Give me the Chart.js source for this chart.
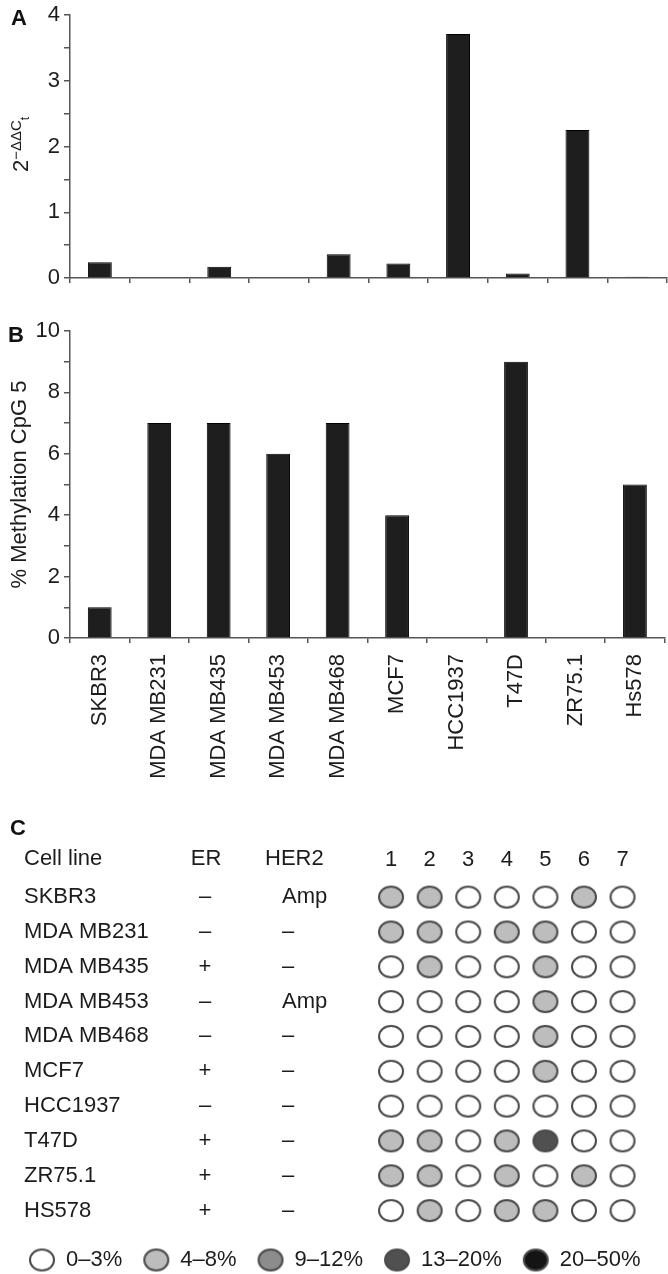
<!DOCTYPE html>
<html>
<head>
<meta charset="utf-8">
<script src="https://cdn.jsdelivr.net/npm/chart.js@4/dist/chart.umd.min.js"></script>
<style>
html,body{margin:0;padding:0;background:#fff;overflow:hidden;width:668px;height:1274px;}
canvas{position:absolute;left:0;}
</style>
</head>
<body>
<canvas id="cA" width="668" height="300" style="top:0px"></canvas>
<canvas id="cB" width="668" height="500" style="top:300px"></canvas>
<canvas id="cC" width="668" height="481" style="top:800px"></canvas>
<script>
// ---------- DATA ----------
const barCellLines = ['SKBR3','MDA MB231','MDA MB435','MDA MB453','MDA MB468','MCF7','HCC1937','T47D','ZR75.1','Hs578'];
const expressionA  = [0.24, 0.01, 0.17, 0, 0.36, 0.22, 3.71, 0.07, 2.25, 0.02];
const methylationB = [1, 7, 7, 6, 7, 4, 0, 9, 0, 5];
const yLabelsA = [0, 1, 2, 3, 4];
const yLabelsB = [0, 2, 4, 6, 8, 10];

const tableCellLines = ['SKBR3','MDA MB231','MDA MB435','MDA MB453','MDA MB468','MCF7','HCC1937','T47D','ZR75.1','HS578'];
const erStatus   = ['–','–','+','–','–','+','–','+','+','+'];
const her2Status = ['Amp','–','–','Amp','–','–','–','–','–','–'];
const cpgSites   = ['1','2','3','4','5','6','7'];
// methylation class per cell line (rows) and CpG site (columns)
const classSKBR3    = [1,1,0,0,0,1,0];
const classMB231    = [1,1,0,1,1,0,0];
const classMB435    = [0,1,0,0,1,0,0];
const classMB453    = [0,0,0,0,1,0,0];
const classMB468    = [0,0,0,0,1,0,0];
const classMCF7     = [0,0,0,0,1,0,0];
const classHCC1937  = [0,0,0,0,0,0,0];
const classT47D     = [1,1,0,1,3,0,0];
const classZR751    = [1,1,0,1,0,1,0];
const classHS578    = [0,1,0,1,1,0,0];
const classMatrix = [classSKBR3,classMB231,classMB435,classMB453,classMB468,classMCF7,classHCC1937,classT47D,classZR751,classHS578];
const classLabels = ['0–3%','4–8%','9–12%','13–20%','20–50%'];

// ---------- STYLE ----------
const FONT = '"Liberation Sans", Arial, Helvetica, sans-serif';
const TEXT = '#1c1c1c';
const AXIS = '#555555';
const BAR_FILL = '#1e1e1e';
const classColors = ['#ffffff','#bdbdbd','#8c8c8c','#505050','#141414'];
const CIRCLE_EDGE = '#4a4a4a';

Chart.defaults.font.family = FONT;
Chart.defaults.color = TEXT;

// elliptical marker sprite used as the library's pointStyle
function ellipseSprite(fill) {
  const c = document.createElement('canvas');
  c.width = 28; c.height = 25;
  const g = c.getContext('2d');
  g.beginPath();
  g.ellipse(14, 12.5, 12, 10.5, 0, 0, Math.PI * 2);
  g.fillStyle = fill;
  g.fill();
  g.lineWidth = 2;
  g.strokeStyle = CIRCLE_EDGE;
  g.stroke();
  return c;
}

const panelLetter = {
  id: 'panelLetter',
  afterDraw(chart, args, opts) {
    if (!opts || !opts.text) return;
    const ctx = chart.ctx;
    ctx.save();
    ctx.font = 'bold 22px ' + FONT;
    ctx.fillStyle = '#111';
    ctx.textAlign = 'left';
    ctx.textBaseline = 'alphabetic';
    ctx.fillText(opts.text, opts.x, opts.y);
    ctx.restore();
  }
};
Chart.register(panelLetter);

const axisTitleA = {
  id: 'axisTitleA',
  afterDraw(chart) {
    const {ctx, chartArea} = chart;
    const cy = (chartArea.top + chartArea.bottom) / 2 - 2;
    const parts = [
      {t: '2', f: '22px ' + FONT, dy: 8},
      {t: '−ΔΔC', f: '15px ' + FONT, dy: 1},
      {t: 't', f: '12px ' + FONT, dy: 9}
    ];
    ctx.save();
    ctx.fillStyle = TEXT;
    let total = 0;
    parts.forEach(p => { ctx.font = p.f; p.w = ctx.measureText(p.t).width; total += p.w; });
    ctx.translate(20, cy);
    ctx.rotate(-Math.PI / 2);
    ctx.textAlign = 'left';
    ctx.textBaseline = 'alphabetic';
    let x = -total / 2;
    parts.forEach(p => { ctx.font = p.f; ctx.fillText(p.t, x, p.dy); x += p.w; });
    ctx.restore();
  }
};

function barOptions(cfg) {
  return {
    responsive: false,
    animation: false,
    events: [],
    layout: {padding: {top: cfg.top, right: 1, left: 0, bottom: cfg.bottom}},
    plugins: {
      legend: {display: false},
      tooltip: {enabled: false},
      panelLetter: cfg.letter
    },
    scales: {
      x: {
        type: 'category',
        offset: true,
        grid: {offset: true, drawOnChartArea: false, drawTicks: true, tickLength: 5, color: AXIS, lineWidth: 1.5},
        border: {color: AXIS, width: 1.5},
        ticks: {display: cfg.showLabels, autoSkip: false, minRotation: 90, maxRotation: 90, padding: 11,
                color: TEXT, font: {size: 22, lineHeight: 1}},
        afterFit: s => { s.height = cfg.xHeight; }
      },
      y: {
        min: 0, max: cfg.max,
        ticks: {stepSize: cfg.step, autoSkip: false, padding: 4, color: TEXT, font: {size: 22, lineHeight: 1},
                callback: v => cfg.labelTicks.includes(v) ? String(v) : ''},
        grid: {drawOnChartArea: false, drawTicks: true, tickLength: 6, color: AXIS, lineWidth: 1.5},
        border: {color: AXIS, width: 1.5},
        title: cfg.title,
        afterFit: s => { s.width = 70; }
      }
    }
  };
}

function barDataset(values) {
  return {
    data: values,
    backgroundColor: BAR_FILL,
    borderColor: '#000',
    borderWidth: 1,
    barPercentage: 0.4,
    categoryPercentage: 1.0
  };
}

// ---------- PANEL A ----------
new Chart(document.getElementById('cA'), {
  type: 'bar',
  data: {labels: barCellLines, datasets: [barDataset(expressionA)]},
  options: barOptions({
    top: 12, bottom: 0, xHeight: 22, showLabels: false, max: 4, step: 0.5, labelTicks: yLabelsA,
    title: {display: false},
    letter: {text: 'A', x: 11, y: 25}
  }),
  plugins: [axisTitleA]
});

// ---------- PANEL B ----------
new Chart(document.getElementById('cB'), {
  type: 'bar',
  data: {labels: barCellLines, datasets: [barDataset(methylationB)]},
  options: barOptions({
    top: 31, bottom: 12, xHeight: 150, showLabels: true, max: 10, step: 1, labelTicks: yLabelsB,
    title: {display: true, text: '% Methylation CpG 5', color: TEXT, font: {size: 22, lineHeight: 1.2}, padding: {top: 7, bottom: 0}},
    letter: {text: 'B', x: 8, y: 42}
  })
});

// ---------- PANEL C ----------
const tableText = {
  id: 'tableText',
  afterDraw(chart) {
    const {ctx, chartArea} = chart;
    const yScale = chart.scales.y;
    ctx.save();
    ctx.font = '22px ' + FONT;
    ctx.fillStyle = TEXT;
    ctx.textBaseline = 'middle';
    const headY = chartArea.top - 21;
    ctx.textAlign = 'left';  ctx.fillText('Cell line', 24, headY);
    ctx.textAlign = 'center'; ctx.fillText('ER', 206, headY);
    ctx.textAlign = 'left';  ctx.fillText('HER2', 265, headY);
    tableCellLines.forEach((name, i) => {
      const py = yScale.getPixelForValue(i);
      ctx.textAlign = 'left';   ctx.fillText(name, 24, py);
      ctx.textAlign = 'center'; ctx.fillText(erStatus[i], 205, py);
      ctx.textAlign = 'left';   ctx.fillText(her2Status[i], 282, py);
    });
    ctx.restore();
  }
};

const classDatasets = classLabels.map((label, k) => {
  const pts = [];
  classMatrix.forEach((row, i) => row.forEach((c, j) => {
    if (c === k) pts.push({x: j + 1, y: tableCellLines[i]});
  }));
  return {
    label: label,
    data: pts,
    backgroundColor: classColors[k],
    borderColor: CIRCLE_EDGE,
    borderWidth: 2,
    pointRadius: 12,
    pointHoverRadius: 12,
    pointStyle: ellipseSprite(classColors[k])
  };
});

new Chart(document.getElementById('cC'), {
  type: 'scatter',
  data: {datasets: classDatasets},
  options: {
    responsive: false,
    animation: false,
    events: [],
    layout: {padding: {top: 39.7, left: 8, right: 0, bottom: 0}},
    plugins: {
      tooltip: {enabled: false},
      panelLetter: {text: 'C', x: 10, y: 35},
      legend: {
        position: 'bottom',
        align: 'start',
        labels: {usePointStyle: true, pointStyleWidth: 26, boxHeight: 16, padding: 21,
                 color: TEXT, font: {size: 22}}
      }
    },
    scales: {
      x: {
        type: 'linear', position: 'top', min: 0.5, max: 7.815,
        afterBuildTicks: s => { s.ticks = cpgSites.map((_, i) => ({value: i + 1})); },
        ticks: {callback: v => cpgSites[v - 1] ?? '', padding: 7, color: TEXT, font: {size: 22}, autoSkip: false, maxRotation: 0},
        grid: {display: false, drawTicks: false},
        border: {display: false},
        afterFit: s => { s.height = 40; }
      },
      y: {
        type: 'category', labels: tableCellLines, offset: true,
        ticks: {display: false}, grid: {display: false}, border: {display: false},
        afterFit: s => { s.width = 363.75; }
      }
    }
  },
  plugins: [tableText]
});
</script>
</body>
</html>
